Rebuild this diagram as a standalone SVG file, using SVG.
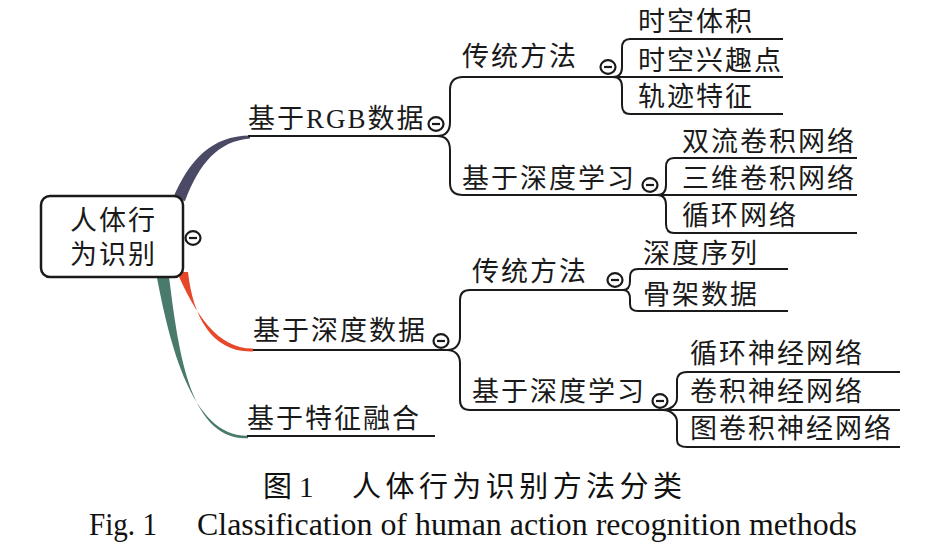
<svg xmlns="http://www.w3.org/2000/svg" width="936" height="556" viewBox="0 0 936 556">
<style>
.t{font-family:"Liberation Serif","Noto Sans CJK SC",serif;font-size:27px;letter-spacing:2px;fill:#1a1a1a}
.ul{fill:none;stroke:#1a1a1a;stroke-width:2}
.br{fill:none;stroke:#1a1a1a;stroke-width:2}
.cc{fill:#fff;stroke:#1a1a1a;stroke-width:2.2}
.cm{stroke:#1a1a1a;stroke-width:2.2}
.cap{font-family:"Liberation Serif","Noto Sans CJK SC",serif;fill:#111}
</style>
<defs>
<g id="col"><ellipse class="cc" rx="7.5" ry="6.8"/><line class="cm" x1="-4" y1="0" x2="4" y2="0"/></g>
</defs>
<rect width="936" height="556" fill="#fff"/>
<g id="connectors">
<path d="M173,198 C190,159 212,136 250,135.5 L250,138.5 C218,141 199,164 185,201 Z" fill="#4a4a66"/>
<path d="M177,272 C195,314 218,349 253,348.6 L253,351.4 C213,353 193,318 188,272 Z" fill="#e8482a"/>
<path d="M157,278 C170,345 192,437 248,435.8 L248,438.2 C188,441 178,345 169,277 Z" fill="#4a7a6c"/>
<path class="br" d="M437,136 C446,136 450,131 450,122 V90 C450,81 454,77 463,77"/>
<path class="br" d="M437,136 C446,136 450,141 450,150 V183 C450,191 454,195 463,195"/>
<path class="br" d="M613,77 C619,77 622,73 622,67 V48 C622,42 625,39 630,39"/>
<path class="br" d="M613,77 H630"/>
<path class="br" d="M613,77 C619,77 622,81 622,87 V105 C622,111 625,114 630,114"/>
<path class="br" d="M657,195 C663,195 666,191 666,185 V167 C666,161 669,158 674,158"/>
<path class="br" d="M657,195 H674"/>
<path class="br" d="M657,195 C663,195 666,199 666,205 V224 C666,230 669,233 674,233"/>
<path class="br" d="M447,350 C455,350 460,345 460,337 V300 C460,293 463,290 470,290"/>
<path class="br" d="M447,350 C455,350 460,355 460,363 V400 C460,407 463,410 470,410"/>
<path class="br" d="M623,290 C628,290 630,286 630,281 V277 C630,272 633,269 638,269"/>
<path class="br" d="M623,290 C628,290 630,294 630,299 V304 C630,309 633,311 638,311"/>
<path class="br" d="M663,410 C670,410 677,405 677,398 V381 C677,375 680,372 687,372"/>
<path class="br" d="M663,410 H687"/>
<path class="br" d="M663,410 C670,410 677,415 677,422 V440 C677,445 680,447 687,447"/>
</g>
<g id="root">
<rect x="41" y="196" width="142" height="81" rx="9" fill="#fff" stroke="#1a1a1a" stroke-width="2.5"/>
<text class="t" x="70" y="230">人体行</text>
<text class="t" x="70" y="264">为识别</text>
<use href="#col" x="193" y="238"/>
</g>
<g id="rgb">
<text class="t" x="248" y="128">基于RGB数据</text>
<path class="ul" d="M248,136 H437"/>
<use href="#col" x="436" y="124"/>
</g>
<g id="rgb-trad">
<text class="t" x="462" y="66">传统方法</text>
<path class="ul" d="M463,77 H613"/>
<use href="#col" x="608" y="67"/>
</g>
<g id="rgb-dl">
<text class="t" x="462" y="188">基于深度学习</text>
<path class="ul" d="M463,195 H657"/>
<use href="#col" x="650" y="185"/>
</g>
<g id="stv"><text class="t" x="638" y="31">时空体积</text><path class="ul" d="M630,39 H783"/></g>
<g id="stip"><text class="t" x="638" y="70">时空兴趣点</text><path class="ul" d="M630,77 H783"/></g>
<g id="traj"><text class="t" x="638" y="106">轨迹特征</text><path class="ul" d="M630,114 H783"/></g>
<g id="twostream"><text class="t" x="682" y="151">双流卷积网络</text><path class="ul" d="M674,158 H857"/></g>
<g id="c3d"><text class="t" x="682" y="188">三维卷积网络</text><path class="ul" d="M674,195 H857"/></g>
<g id="rnn1"><text class="t" x="682" y="225">循环网络</text><path class="ul" d="M674,233 H857"/></g>
<g id="depth">
<text class="t" x="253" y="340">基于深度数据</text>
<path class="ul" d="M253,350 H447"/>
<use href="#col" x="441" y="341"/>
</g>
<g id="depth-trad">
<text class="t" x="472" y="281">传统方法</text>
<path class="ul" d="M470,290 H623"/>
<use href="#col" x="615" y="280"/>
</g>
<g id="depth-dl">
<text class="t" x="472" y="401">基于深度学习</text>
<path class="ul" d="M470,410 H663"/>
<use href="#col" x="660" y="401"/>
</g>
<g id="depthseq"><text class="t" x="643" y="263">深度序列</text><path class="ul" d="M638,269 H788"/></g>
<g id="skeleton"><text class="t" x="643" y="304">骨架数据</text><path class="ul" d="M638,311 H788"/></g>
<g id="rnn2"><text class="t" x="690" y="363">循环神经网络</text><path class="ul" d="M687,372 H900"/></g>
<g id="cnn"><text class="t" x="690" y="401">卷积神经网络</text><path class="ul" d="M687,410 H900"/></g>
<g id="gcn"><text class="t" x="690" y="438">图卷积神经网络</text><path class="ul" d="M687,447 H900"/></g>
<g id="fusion">
<text class="t" x="247" y="428">基于特征融合</text>
<path class="ul" d="M247,436 H435"/>
</g>
<g id="caption">
<text class="cap" x="263" y="497" font-size="29">图</text>
<text class="cap" x="299" y="497" font-size="29">1</text>
<text class="cap" x="352" y="497" font-size="29" textLength="330" lengthAdjust="spacing">人体行为识别方法分类</text>
<text class="cap" x="89" y="535" font-size="32" textLength="68" lengthAdjust="spacingAndGlyphs">Fig. 1</text>
<text class="cap" x="197" y="535" font-size="32" textLength="660" lengthAdjust="spacingAndGlyphs">Classification of human action recognition methods</text>
</g>
</svg>
